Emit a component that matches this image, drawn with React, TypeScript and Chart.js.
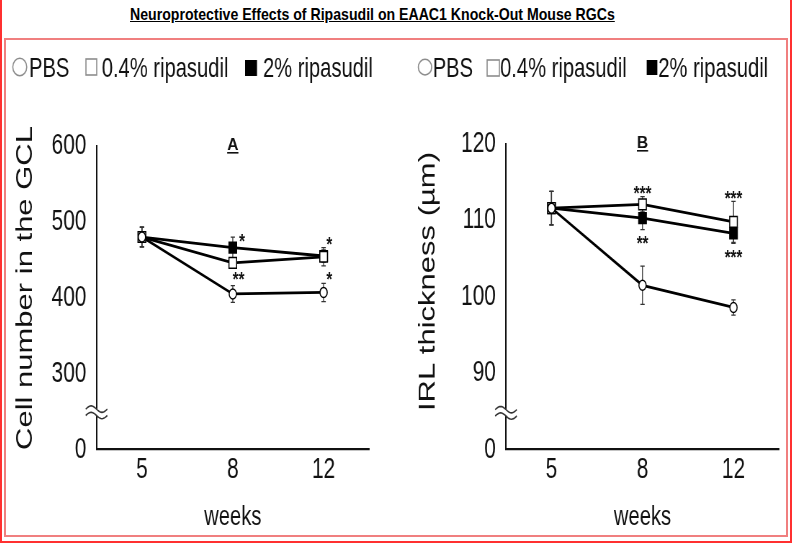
import React, { useEffect, useRef } from "react";
import { Chart, registerables } from "chart.js";

Chart.register(...registerables);

// ---------- data ----------
const weeks = ["5", "8", "12"];
const seriesLabels = ["PBS", "0.4% ripasudil", "2% ripasudil"];

// Panel A: cell number in the GCL
const gclPBS = [480, 405, 407];
const gclLow = [480, 446, 454];
const gclHigh = [480, 466, 455];
const gclPBSErr = [13, 11, 12];
const gclLowErr = [13, 4, 12];
const gclHighErr = [13, 14, 8];
const gclTicks = [200, 300, 400, 500, 600];
const gclTickLabels = ["0", "300", "400", "500", "600"];
// significance marks: [series index, week index, side, text]
const gclStars: [number, number, string, string][] = [
  [2, 1, "beside", "*"],
  [1, 1, "below", "**"],
  [1, 2, "above", "*"],
  [1, 2, "below", "*"],
];

// Panel B: IRL thickness
const irlPBS = [111.6, 101.5, 98.6];
const irlLow = [111.6, 112.1, 109.8];
const irlHigh = [111.6, 110.3, 108.3];
const irlPBSErr = [2.2, 2.5, 1.0];
const irlLowErr = [2.2, 1.0, 2.7];
const irlHighErr = [2.2, 1.5, 1.3];
const irlTicks = [80, 90, 100, 110, 120];
const irlTickLabels = ["0", "90", "100", "110", "120"];
const irlStars: [number, number, string, string][] = [
  [1, 1, "above", "***"],
  [2, 1, "below", "**"],
  [1, 2, "above", "***"],
  [2, 2, "below", "***"],
];

// ---------- styling ----------
const FONT = '"Liberation Sans", Arial, Helvetica, sans-serif';
const S = 0.72; // horizontal squeeze of the original figure
const H = 494;
const INK = "#111";

const seriesPoint = [
  { style: "circle", r: 5, bg: "#ffffff" },
  { style: "rect", r: 7.5, bg: "#ffffff" },
  { style: "rect", r: 7.5, bg: "#000000" },
];

type PanelCfg = {
  values: number[][];
  errors: number[][];
  ticks: number[];
  tickLabels: string[];
  stars: [number, number, string, string][];
  yTitle: string;
  letter: string;
  breakValue: number;
  left: number;
  width: number;
  padTop: number;
  padRight: number;
  yAxisWidth: number;
  yTitleX: number;
  yTitleY: number;
  starShift: number;
  legendBoxes: number[][];
  legendTextX: number[];
};

const panels: PanelCfg[] = [
  {
    values: [gclPBS, gclLow, gclHigh],
    errors: [gclPBSErr, gclLowErr, gclHighErr],
    ticks: gclTicks,
    tickLabels: gclTickLabels,
    stars: gclStars,
    yTitle: "Cell number in the GCL",
    letter: "A",
    breakValue: 249,
    left: 6,
    width: 545,
    padTop: 106,
    padRight: 40.8,
    yAxisWidth: 125.7,
    yTitleX: 36,
    yTitleY: 248,
    starShift: 8,
    legendBoxes: [
      [9.4, 28.8, 18.3, 35.7],
      [111, 126, 19, 35],
      [332, 348.6, 20, 36],
    ],
    legendTextX: [32, 133, 357],
  },
  {
    values: [irlPBS, irlLow, irlHigh],
    errors: [irlPBSErr, irlLowErr, irlHighErr],
    ticks: irlTicks,
    tickLabels: irlTickLabels,
    stars: irlStars,
    yTitle: "IRL thickness (\u00b5m)",
    letter: "B",
    breakValue: 84.8,
    left: 400,
    width: 536,
    padTop: 104,
    padRight: 9.6,
    yAxisWidth: 147.2,
    yTitleX: 48,
    yTitleY: 241.5,
    starShift: 0,
    legendBoxes: [
      [25.5, 44, 19.3, 35],
      [121, 138, 20, 36],
      [342.6, 357.4, 20, 35],
    ],
    legendTextX: [45.4, 139, 358.8],
  },
];

function buildConfig(cfg: PanelCfg): any {
  const datasets = cfg.values.map((vals, k) => ({
    label: seriesLabels[k],
    data: vals,
    borderColor: "#000",
    borderWidth: 2.8,
    pointStyle: seriesPoint[k].style,
    pointRadius: seriesPoint[k].r,
    pointBackgroundColor: seriesPoint[k].bg,
    pointBorderColor: "#000",
    pointBorderWidth: 1.5,
    tension: 0,
    fill: false,
  }));

  const errorBars = {
    id: "errorBars",
    beforeDatasetsDraw(chart: any) {
      const ctx = chart.ctx;
      const ys = chart.scales.y;
      ctx.save();
      ctx.strokeStyle = "#333";
      ctx.lineWidth = 1.3;
      cfg.values.forEach((vals, k) => {
        const meta = chart.getDatasetMeta(k);
        vals.forEach((v, i) => {
          const x = meta.data[i].x;
          const e = cfg.errors[k][i];
          const y1 = ys.getPixelForValue(v + e);
          const y2 = ys.getPixelForValue(v - e);
          ctx.beginPath();
          ctx.moveTo(x, y1);
          ctx.lineTo(x, y2);
          ctx.moveTo(x - 3, y1);
          ctx.lineTo(x + 3, y1);
          ctx.moveTo(x - 3, y2);
          ctx.lineTo(x + 3, y2);
          ctx.stroke();
        });
      });
      ctx.restore();
    },
  };

  const decorations = {
    id: "decorations",
    afterDatasetsDraw(chart: any) {
      const ctx = chart.ctx;
      const ys = chart.scales.y;
      // significance stars
      ctx.save();
      ctx.fillStyle = INK;
      ctx.font = `bold 21px ${FONT}`;
      ctx.textAlign = "center";
      ctx.textBaseline = "alphabetic";
      cfg.stars.forEach(([k, i, side, text]) => {
        const meta = chart.getDatasetMeta(k);
        const v = cfg.values[k][i];
        const e = cfg.errors[k][i];
        let x = meta.data[i].x + cfg.starShift;
        let y: number;
        if (side === "above") y = ys.getPixelForValue(v + e) - 8.5;
        else if (side === "below") y = ys.getPixelForValue(v - e) + 8.5;
        else {
          x += 5;
          y = ys.getPixelForValue(v + e) - 1;
        }
        ctx.fillText(text, x, y + 12);
      });
      ctx.restore();
    },
    afterDraw(chart: any) {
      const ctx = chart.ctx;
      const area = chart.chartArea;
      const ys = chart.scales.y;

      // axis break symbol
      const bx = area.left;
      const by = ys.getPixelForValue(cfg.breakValue);
      const w = 15;
      const amp = 3.2;
      const sep = 3.2;
      const curve = (dy: number, forward: boolean) => {
        const pts: [number, number][] = [];
        for (let j = 0; j <= 20; j++) {
          const t = -1 + (2 * j) / 20;
          pts.push([bx + t * w, by + dy + amp * Math.sin(Math.PI * t)]);
        }
        return forward ? pts : pts.reverse();
      };
      ctx.save();
      const top = curve(-sep, true);
      const bot = curve(sep, false);
      ctx.fillStyle = "#fff";
      ctx.beginPath();
      [...top, ...bot].forEach(([px, py], j) => (j === 0 ? ctx.moveTo(px, py) : ctx.lineTo(px, py)));
      ctx.closePath();
      ctx.fill();
      ctx.strokeStyle = "#333";
      ctx.lineWidth = 1.6;
      [top, bot].forEach((pts) => {
        ctx.beginPath();
        pts.forEach(([px, py], j) => (j === 0 ? ctx.moveTo(px, py) : ctx.lineTo(px, py)));
        ctx.stroke();
      });
      ctx.restore();

      // y axis title
      ctx.save();
      ctx.fillStyle = INK;
      ctx.font = `31px ${FONT}`;
      ctx.translate(cfg.yTitleX, cfg.yTitleY);
      ctx.rotate(-Math.PI / 2);
      ctx.textAlign = "center";
      ctx.textBaseline = "alphabetic";
      ctx.fillText(cfg.yTitle, 0, 0);
      ctx.restore();

      // panel letter (bold, underlined)
      ctx.save();
      const cx = (area.left + area.right) / 2;
      ctx.translate(cx, area.top + 4);
      ctx.scale(1.35, 1);
      ctx.fillStyle = INK;
      ctx.font = `bold 16px ${FONT}`;
      ctx.textAlign = "center";
      ctx.textBaseline = "alphabetic";
      ctx.fillText(cfg.letter, 0, 0);
      const lw = ctx.measureText(cfg.letter).width;
      ctx.fillRect(-lw / 2, 2, lw, 1.6);
      ctx.restore();

      // legend
      ctx.save();
      const [c, q, b] = cfg.legendBoxes;
      ctx.strokeStyle = "#8c8c8c";
      ctx.lineWidth = 1.6;
      ctx.beginPath();
      ctx.ellipse((c[0] + c[1]) / 2, (c[2] + c[3]) / 2, (c[1] - c[0]) / 2, (c[3] - c[2]) / 2, 0, 0, Math.PI * 2);
      ctx.stroke();
      ctx.strokeRect(q[0], q[2], q[1] - q[0], q[3] - q[2]);
      ctx.fillStyle = "#000";
      ctx.fillRect(b[0], b[2], b[1] - b[0], b[3] - b[2]);
      ctx.fillStyle = INK;
      ctx.font = `28px ${FONT}`;
      ctx.textAlign = "left";
      ctx.textBaseline = "alphabetic";
      seriesLabels.forEach((t, k) => ctx.fillText(t, cfg.legendTextX[k], 36.7));
      ctx.restore();
    },
  };

  return {
    type: "line",
    data: { labels: weeks, datasets },
    plugins: [errorBars, decorations],
    options: {
      responsive: false,
      animation: false,
      devicePixelRatio: 1,
      events: [],
      layout: { padding: { left: 0, right: cfg.padRight, top: cfg.padTop, bottom: 0 } },
      plugins: {
        legend: { display: false },
        tooltip: { enabled: false },
        title: { display: false },
      },
      scales: {
        x: {
          type: "category",
          offset: true,
          grid: { display: false, drawTicks: false },
          border: { display: true, color: INK, width: 2.3 },
          ticks: { font: { family: FONT, size: 29 }, color: INK, padding: 3, maxRotation: 0, autoSkip: false },
          title: { display: true, text: "weeks", font: { family: FONT, size: 28 }, color: INK, padding: 0 },
          afterFit: (s: any) => {
            s.height = H - 409.5;
          },
        },
        y: {
          type: "linear",
          min: cfg.ticks[0],
          max: cfg.ticks[cfg.ticks.length - 1],
          grid: { display: false, drawTicks: false },
          border: { display: true, color: INK, width: 2 },
          ticks: {
            font: { family: FONT, size: 29 },
            color: INK,
            padding: 14,
            callback: (v: number) => cfg.tickLabels[cfg.ticks.indexOf(v)],
          },
          afterBuildTicks: (s: any) => {
            s.ticks = cfg.ticks.map((v) => ({ value: v }));
          },
          afterFit: (s: any) => {
            s.width = cfg.yAxisWidth;
          },
        },
      },
    },
  };
}

function PanelChart({ cfg }: { cfg: PanelCfg }) {
  const ref = useRef<HTMLCanvasElement>(null);
  useEffect(() => {
    const chart = new Chart(ref.current as HTMLCanvasElement, buildConfig(cfg));
    return () => chart.destroy();
  }, [cfg]);
  return (
    <canvas
      ref={ref}
      width={cfg.width}
      height={H}
      style={{
        position: "absolute",
        left: cfg.left,
        top: 40,
        transform: `scaleX(${S})`,
        transformOrigin: "0 0",
      }}
    />
  );
}

function Title() {
  const ref = useRef<HTMLSpanElement>(null);
  useEffect(() => {
    const el = ref.current;
    if (!el) return;
    const w = el.offsetWidth;
    if (w > 0) el.style.transform = `scaleX(${485 / w})`;
  }, []);
  return (
    <span
      ref={ref}
      style={{
        position: "absolute",
        left: 130,
        top: 6,
        font: `bold 17px ${FONT}`,
        lineHeight: "17px",
        whiteSpace: "nowrap",
        textDecoration: "underline",
        transformOrigin: "0 0",
        color: "#000",
        display: "inline-block",
      }}
    >
      Neuroprotective Effects of Ripasudil on EAAC1 Knock-Out Mouse RGCs
    </span>
  );
}

export default function App() {
  return (
    <div
      style={{
        position: "fixed",
        left: 0,
        top: 0,
        width: 797,
        height: 544,
        background: "#fff",
        overflow: "hidden",
      }}
    >
      <div
        style={{
          position: "absolute",
          left: 0,
          top: -3,
          width: 792,
          height: 546,
          boxSizing: "border-box",
          border: "2px solid #ff3030",
        }}
      />
      <div
        style={{
          position: "absolute",
          left: 4,
          top: 38,
          width: 784,
          height: 499,
          boxSizing: "border-box",
          border: "2px solid #f07f7f",
        }}
      />
      <Title />
      {panels.map((p, i) => (
        <PanelChart key={i} cfg={p} />
      ))}
    </div>
  );
}
